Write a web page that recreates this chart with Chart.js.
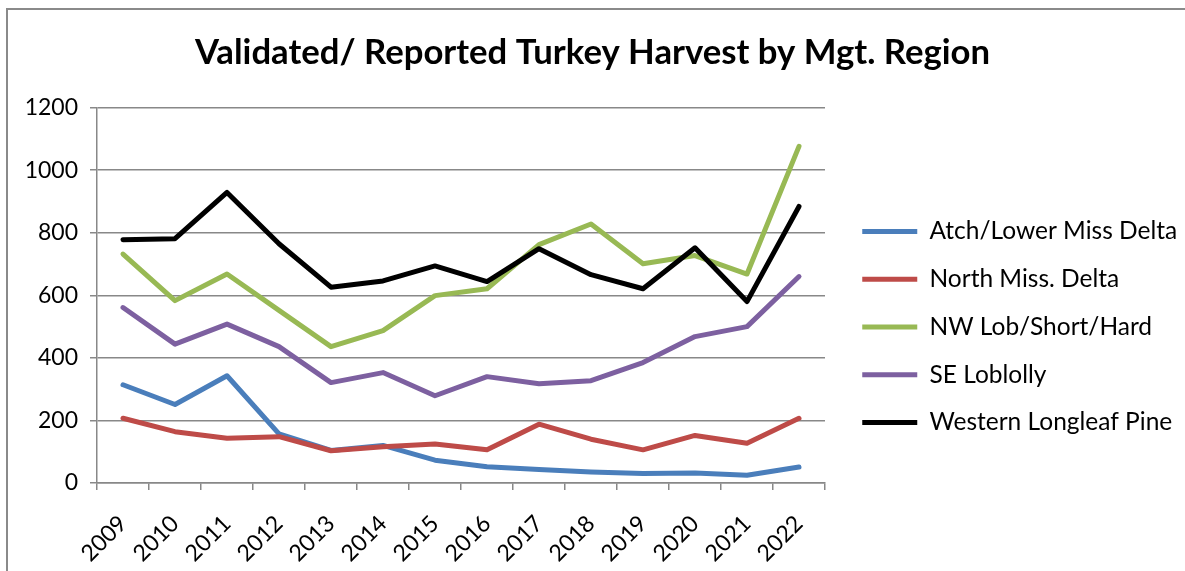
<!DOCTYPE html>
<html>
<head>
<meta charset="utf-8">
<script src="https://cdn.jsdelivr.net/npm/chart.js@4/dist/chart.umd.min.js"></script>
<style>
  body { margin: 0; background: #fff; }
  #wrap { width: 1185px; height: 571px; position: relative; }
</style>
</head>
<body>
<div id="wrap"><canvas id="harvestChart"></canvas></div>
<script>
    const years = ['2009', '2010', '2011', '2012', '2013', '2014', '2015', '2016', '2017', '2018', '2019', '2020', '2021', '2022'];
    const atchLowerMissDelta = [314, 251, 343, 157, 104, 120, 73, 52, 43, 35, 30, 32, 25, 51];
    const northMissDelta = [207, 164, 143, 148, 103, 116, 125, 106, 188, 140, 106, 152, 127, 207];
    const nwLobShortHard = [732, 583, 668, 552, 436, 487, 599, 621, 762, 828, 701, 727, 668, 1076];
    const seLoblolly = [561, 444, 508, 436, 321, 353, 279, 340, 317, 327, 385, 468, 500, 660];
    const westernLongleafPine = [778, 781, 929, 765, 626, 646, 694, 644, 749, 666, 621, 752, 580, 884];
    const yTicks = [0, 200, 400, 600, 800, 1000, 1200];

    const FONT = 'Lato, "Liberation Sans", sans-serif';
    const GRID = '#888888';

    function series(label, data, color, order) {
        return {
            label: label,
            data: data,
            borderColor: color,
            backgroundColor: color,
            borderWidth: 5,
            pointRadius: 0,
            tension: 0,
            borderCapStyle: 'round',
            borderJoinStyle: 'round',
            order: order
        };
    }

    // outer frame + legend placement tweaks
    const framePlugin = {
        id: 'frame',
        beforeInit(chart) {
            const fit = chart.legend.fit;
            chart.legend.fit = function () {
                fit.call(this);
                this.width = 360;
            };
        },
        afterLayout(chart) {
            chart.legend.left = chart.chartArea.right + 14;
            chart.legend.top = 196;
        },
        beforeDraw(chart) {
            const ctx = chart.ctx;
            ctx.save();
            ctx.strokeStyle = '#8a8a8a';
            ctx.lineWidth = 2;
            ctx.strokeRect(7, 9, 1400, 800);
            ctx.restore();
        }
    };

    const ctx = document.getElementById('harvestChart').getContext('2d');
    new Chart(ctx, {
        type: 'line',
        data: {
            labels: years,
            datasets: [
                series('Atch/Lower Miss Delta', atchLowerMissDelta, '#4A7EBB', 5),
                series('North Miss. Delta', northMissDelta, '#BE4B48', 4),
                series('NW Lob/Short/Hard', nwLobShortHard, '#98B954', 3),
                series('SE Loblolly', seLoblolly, '#7D60A0', 2),
                series('Western Longleaf Pine', westernLongleafPine, '#000000', 1)
            ]
        },
        options: {
            responsive: true,
            maintainAspectRatio: false,
            animation: false,
            layout: { padding: 0 },
            plugins: {
                title: {
                    display: true,
                    text: 'Validated/ Reported Turkey Harvest by Mgt. Region',
                    color: '#000',
                    font: { family: FONT, size: 34.7, weight: 'bold', lineHeight: 1.2 },
                    padding: { top: 32, bottom: 34 }
                },
                legend: {
                    position: 'right',
                    align: 'start',
                    labels: {
                        color: '#000',
                        font: { family: FONT, size: 24.5 },
                        boxWidth: 55,
                        boxHeight: 5,
                        padding: 23.25,
                        sort: (a, b) => a.datasetIndex - b.datasetIndex,
                        generateLabels: chart => Chart.defaults.plugins.legend.labels.generateLabels(chart)
                            .map(l => Object.assign(l, { lineWidth: 0, fillStyle: l.strokeStyle }))
                    }
                },
                tooltip: { enabled: false }
            },
            scales: {
                x: {
                    offset: true,
                    afterFit: s => { s.height = 88; },
                    grid: { offset: true, drawOnChartArea: false, drawTicks: true, tickLength: 7, color: GRID, lineWidth: 1.5 },
                    border: { color: GRID, width: 1.5 },
                    ticks: {
                        color: '#000',
                        font: { family: FONT, size: 23 },
                        minRotation: 45,
                        maxRotation: 45,
                        padding: 20
                    }
                },
                y: {
                    min: 0,
                    max: 1200,
                    afterFit: s => { s.width = 97; },
                    afterBuildTicks: s => { s.ticks = yTicks.map(v => ({ value: v })); },
                    grid: { color: GRID, lineWidth: 1.5, tickLength: 7 },
                    border: { color: GRID, width: 1.5 },
                    ticks: {
                        color: '#000',
                        font: { family: FONT, size: 23 },
                        padding: 12,
                        callback: v => String(v)
                    }
                }
            }
        },
        plugins: [framePlugin]
    });
</script>
</body>
</html>
